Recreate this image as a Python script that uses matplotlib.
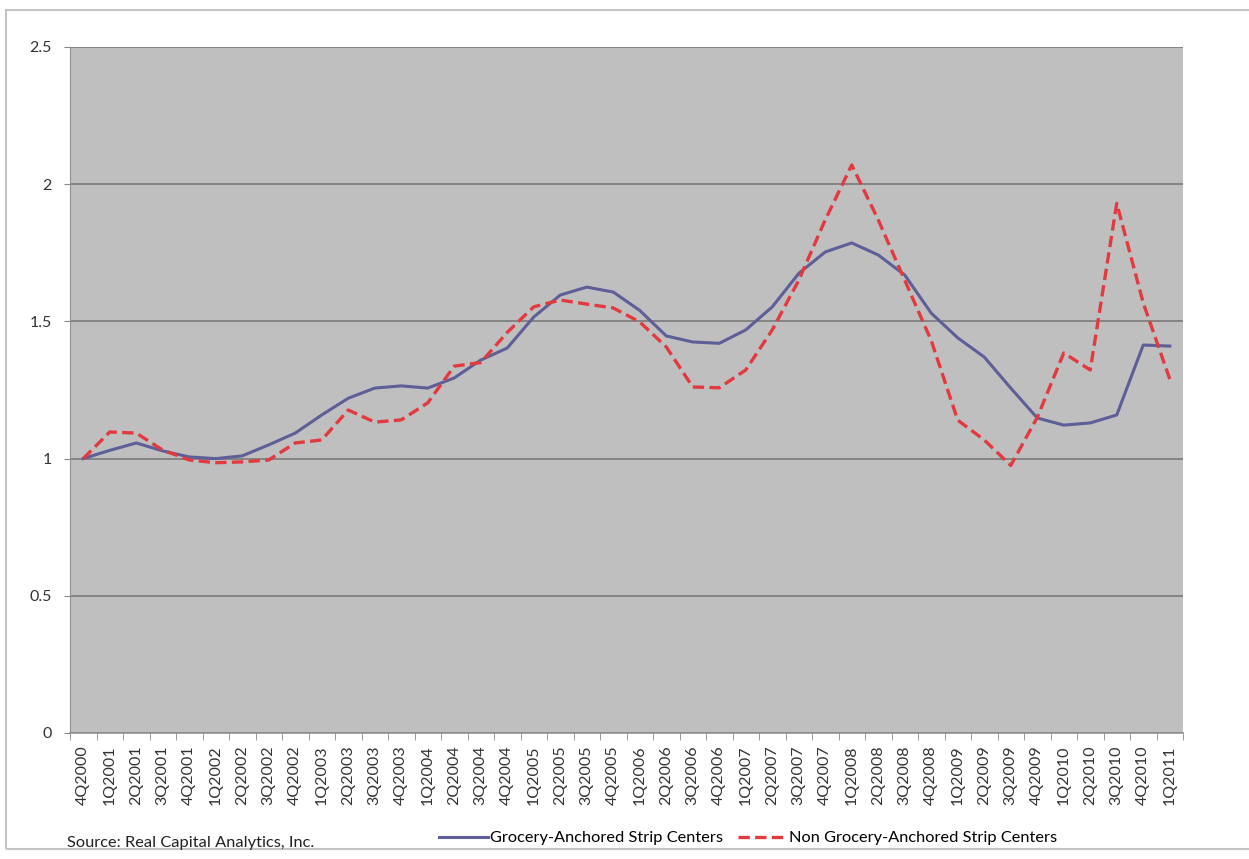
#Importing libraries
import numpy as np
import matplotlib.pyplot as plt
from matplotlib.patches import Rectangle

#Quarter labels, 4Q2000 to 1Q2011
quarters = ['4Q2000']
for year in range(2001, 2011):
    for q in range(1, 5):
        quarters.append('%dQ%d' % (q, year))
quarters.append('1Q2011')

#Index values
grocery = [1.00, 1.03, 1.057, 1.028, 1.006, 1.00, 1.01, 1.05,
           1.093, 1.159, 1.22, 1.257, 1.265, 1.257, 1.294, 1.359,
           1.403, 1.516, 1.596, 1.625, 1.607, 1.54, 1.447, 1.425,
           1.42, 1.469, 1.553, 1.675, 1.753, 1.786, 1.742, 1.669,
           1.53, 1.44, 1.37, 1.257, 1.148, 1.122, 1.13, 1.159,
           1.414, 1.41]
non_grocery = [1.00, 1.097, 1.093, 1.031, 0.995, 0.985, 0.988, 0.995,
               1.057, 1.068, 1.177, 1.133, 1.141, 1.203, 1.337, 1.35,
               1.46, 1.553, 1.578, 1.563, 1.549, 1.498, 1.407, 1.261,
               1.258, 1.323, 1.469, 1.65, 1.87, 2.07, 1.87, 1.65,
               1.43, 1.14, 1.068, 0.975, 1.15, 1.385, 1.323, 1.93,
               1.567, 1.29]

y_ticks = [0, 0.5, 1, 1.5, 2, 2.5]
y_labels = ['0', '0.5', '1', '1.5', '2', '2.5']

plt.rcParams['font.family'] = ['Lato', 'DejaVu Sans']

fig = plt.figure(figsize=(12.49, 8.59), dpi=100)
ax = fig.add_axes([70/1249, 1-733/859, 1113/1249, 686/859])

#Outer chart border
fig.patches.append(Rectangle((6/1249, 10/859), 1.1, 839/859, transform=fig.transFigure,
                             fill=False, edgecolor='#c4c4c4', linewidth=1.5))

x = np.arange(len(quarters))
ax.set_facecolor('#bfbfbf')
ax.plot(x, grocery, color='#5e5e98', linewidth=2.2,
        label='Grocery-Anchored Strip Centers')
ax.plot(x, non_grocery, color='#e23a3e', linewidth=2.4, linestyle=(0, (3.4, 1.6)),
        label='Non Grocery-Anchored Strip Centers')

ax.set_xlim(-0.5, len(quarters) - 0.5)
ax.set_ylim(0, 2.5)
ax.set_yticks(y_ticks)
ax.set_yticklabels(y_labels, fontsize=11.5, color='#333333')
ax.set_xticks(x)
ax.set_xticklabels(quarters, rotation=90, fontsize=11.5, color='#333333')
ax.set_xticks(np.arange(len(quarters) + 1) - 0.5, minor=True)
ax.tick_params(axis='x', which='major', length=0, pad=9)
ax.tick_params(axis='x', which='minor', length=5, color='#888888')
ax.tick_params(axis='y', length=4, color='#888888', pad=9)

ax.grid(axis='y', color='#7a7a7a', linewidth=1.2)
ax.set_axisbelow(True)
for side in ['top', 'right']:
    ax.spines[side].set_visible(False)
ax.spines['left'].set_color('#909090')
ax.spines['bottom'].set_color('#909090')
ax.spines['bottom'].set_linewidth(1.2)

#Footer: source and legend
fig.text(67/1249, 1-843/859, 'Source: Real Capital Analytics, Inc.', fontsize=11.8,
         color='#222222', va='center')
fig.legend(loc='center', bbox_to_anchor=(748/1249, 1-838/859), ncol=2, frameon=False,
           fontsize=11.8, handlelength=3.0, handletextpad=0.1, columnspacing=0.9)

plt.savefig('out.png', dpi=100)
